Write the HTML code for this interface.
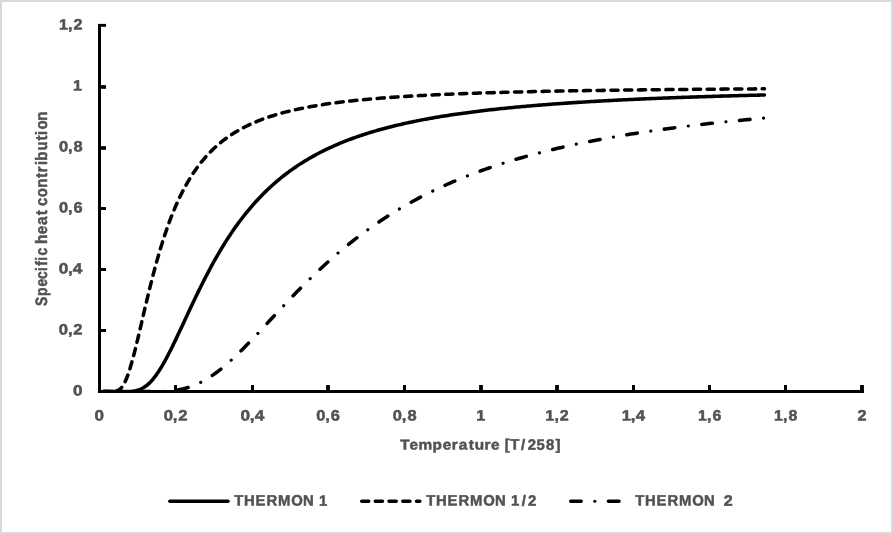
<!DOCTYPE html>
<html lang="en">
<head>
<meta charset="utf-8">
<title>Specific heat contribution vs Temperature</title>
<style>
html,body{margin:0;padding:0;background:#fff;}
body{width:893px;height:534px;overflow:hidden;}
svg{display:block;}
text{font-family:"Liberation Sans",sans-serif;font-weight:bold;fill:#525252;stroke:#525252;stroke-width:0.5px;stroke-linejoin:round;text-rendering:geometricPrecision;white-space:pre;}
</style>
</head>
<body>
<svg width="893" height="534" viewBox="0 0 893 534">
<rect x="0" y="0" width="893" height="534" fill="#d9d9d9"/>
<rect x="2" y="2" width="889" height="530" fill="#ffffff"/>
<clipPath id="plot"><rect x="90" y="10" width="790" height="383"/></clipPath>
<g clip-path="url(#plot)" fill="none" stroke="#000" stroke-width="3.55" stroke-linecap="round" stroke-linejoin="round">
<path d="M103.31 391.60 L105.22 391.60 L107.12 391.60 L109.03 391.60 L110.93 391.60 L112.84 391.60 L114.74 391.60 L116.65 391.60 L118.56 391.60 L120.46 391.60 L122.37 391.60 L124.27 391.60 L126.18 391.60 L128.08 391.60 L129.99 391.60 L131.89 391.60 L133.80 391.60 L135.70 391.60 L137.61 391.60 L139.51 391.60 L141.42 391.60 L143.32 391.60 L145.23 391.60 L147.14 391.59 L149.04 391.59 L150.95 391.58 L152.85 391.56 L154.76 391.54 L156.66 391.51 L158.57 391.47 L160.47 391.42 L162.38 391.36 L164.28 391.27 L166.19 391.17 L168.09 391.04 L170.00 390.88 L171.91 390.70 L173.81 390.48 L175.72 390.22 L177.62 389.92 L179.53 389.59 L181.43 389.20 L183.34 388.77 L185.24 388.29 L187.15 387.75 L189.05 387.17 L190.96 386.52 L192.86 385.82 L194.77 385.07 L196.67 384.25 L198.58 383.38 L200.49 382.45 L202.39 381.46 L204.30 380.42 L206.20 379.31 L208.11 378.15 L210.01 376.94 L211.92 375.67 L213.82 374.35 L215.73 372.98 L217.63 371.55 L219.54 370.08 L221.44 368.57 L223.35 367.01 L225.26 365.40 L227.16 363.76 L229.07 362.08 L230.97 360.36 L232.88 358.60 L234.78 356.82 L236.69 355.00 L238.59 353.16 L240.50 351.29 L242.40 349.39 L244.31 347.48 L246.21 345.54 L248.12 343.58 L250.02 341.61 L251.93 339.62 L253.84 337.62 L255.74 335.61 L257.65 333.59 L259.55 331.56 L261.46 329.52 L263.36 327.48 L265.27 325.43 L267.17 323.38 L269.08 321.33 L270.98 319.28 L272.89 317.23 L274.79 315.18 L276.70 313.13 L278.61 311.09 L280.51 309.06 L282.42 307.03 L284.32 305.01 L286.23 302.99 L288.13 300.99 L290.04 298.99 L291.94 297.00 L293.85 295.03 L295.75 293.06 L297.66 291.11 L299.56 289.17 L301.47 287.24 L303.37 285.32 L305.28 283.42 L307.19 281.53 L309.09 279.66 L311.00 277.80 L312.90 275.95 L314.81 274.12 L316.71 272.31 L318.62 270.51 L320.52 268.73 L322.43 266.96 L324.33 265.21 L326.24 263.47 L328.14 261.75 L330.05 260.05 L331.96 258.36 L333.86 256.69 L335.77 255.04 L337.67 253.40 L339.58 251.78 L341.48 250.18 L343.39 248.59 L345.29 247.02 L347.20 245.47 L349.10 243.93 L351.01 242.41 L352.91 240.90 L354.82 239.41 L356.72 237.94 L358.63 236.48 L360.54 235.04 L362.44 233.62 L364.35 232.21 L366.25 230.82 L368.16 229.44 L370.06 228.08 L371.97 226.73 L373.87 225.40 L375.78 224.08 L377.68 222.78 L379.59 221.49 L381.49 220.22 L383.40 218.97 L385.31 217.72 L387.21 216.49 L389.12 215.28 L391.02 214.08 L392.93 212.89 L394.83 211.72 L396.74 210.56 L398.64 209.42 L400.55 208.29 L402.45 207.17 L404.36 206.06 L406.26 204.97 L408.17 203.89 L410.07 202.82 L411.98 201.77 L413.89 200.72 L415.79 199.69 L417.70 198.67 L419.60 197.67 L421.51 196.67 L423.41 195.69 L425.32 194.72 L427.22 193.76 L429.13 192.81 L431.03 191.87 L432.94 190.94 L434.84 190.03 L436.75 189.12 L438.66 188.23 L440.56 187.34 L442.47 186.47 L444.37 185.60 L446.28 184.75 L448.18 183.90 L450.09 183.07 L451.99 182.24 L453.90 181.43 L455.80 180.62 L457.71 179.82 L459.61 179.03 L461.52 178.26 L463.42 177.48 L465.33 176.72 L467.24 175.97 L469.14 175.23 L471.05 174.49 L472.95 173.76 L474.86 173.04 L476.76 172.33 L478.67 171.63 L480.57 170.93 L482.48 170.25 L484.38 169.57 L486.29 168.89 L488.19 168.23 L490.10 167.57 L492.01 166.92 L493.91 166.28 L495.82 165.64 L497.72 165.02 L499.63 164.39 L501.53 163.78 L503.44 163.17 L505.34 162.57 L507.25 161.97 L509.15 161.39 L511.06 160.80 L512.96 160.23 L514.87 159.66 L516.77 159.09 L518.68 158.54 L520.59 157.99 L522.49 157.44 L524.40 156.90 L526.30 156.37 L528.21 155.84 L530.11 155.32 L532.02 154.80 L533.92 154.29 L535.83 153.78 L537.73 153.28 L539.64 152.78 L541.54 152.29 L543.45 151.81 L545.36 151.33 L547.26 150.85 L549.17 150.38 L551.07 149.92 L552.98 149.46 L554.88 149.00 L556.79 148.55 L558.69 148.10 L560.60 147.66 L562.50 147.22 L564.41 146.79 L566.31 146.36 L568.22 145.94 L570.12 145.52 L572.03 145.10 L573.94 144.69 L575.84 144.28 L577.75 143.88 L579.65 143.48 L581.56 143.08 L583.46 142.69 L585.37 142.31 L587.27 141.92 L589.18 141.54 L591.08 141.17 L592.99 140.79 L594.89 140.42 L596.80 140.06 L598.70 139.70 L600.61 139.34 L602.52 138.98 L604.42 138.63 L606.33 138.28 L608.23 137.94 L610.14 137.60 L612.04 137.26 L613.95 136.92 L615.85 136.59 L617.76 136.26 L619.66 135.94 L621.57 135.62 L623.47 135.30 L625.38 134.98 L627.29 134.67 L629.19 134.36 L631.10 134.05 L633.00 133.74 L634.91 133.44 L636.81 133.14 L638.72 132.85 L640.62 132.55 L642.53 132.26 L644.43 131.97 L646.34 131.69 L648.24 131.41 L650.15 131.12 L652.05 130.85 L653.96 130.57 L655.87 130.30 L657.77 130.03 L659.68 129.76 L661.58 129.49 L663.49 129.23 L665.39 128.97 L667.30 128.71 L669.20 128.45 L671.11 128.20 L673.01 127.95 L674.92 127.70 L676.82 127.45 L678.73 127.21 L680.64 126.96 L682.54 126.72 L684.45 126.48 L686.35 126.25 L688.26 126.01 L690.16 125.78 L692.07 125.55 L693.97 125.32 L695.88 125.09 L697.78 124.87 L699.69 124.64 L701.59 124.42 L703.50 124.20 L705.40 123.99 L707.31 123.77 L709.22 123.56 L711.12 123.34 L713.03 123.13 L714.93 122.93 L716.84 122.72 L718.74 122.51 L720.65 122.31 L722.55 122.11 L724.46 121.91 L726.36 121.71 L728.27 121.51 L730.17 121.32 L732.08 121.13 L733.99 120.93 L735.89 120.74 L737.80 120.56 L739.70 120.37 L741.61 120.18 L743.51 120.00 L745.42 119.82 L747.32 119.63 L749.23 119.45 L751.13 119.28 L753.04 119.10 L754.94 118.92 L756.85 118.75 L758.75 118.58 L760.66 118.40 L762.57 118.23 L764.47 118.07" stroke-dashoffset="1.15" stroke-dasharray="10.61 27.23"/>
<path d="M103.31 391.60 L105.22 391.60 L107.12 391.60 L109.03 391.60 L110.93 391.60 L112.84 391.60 L114.74 391.60 L116.65 391.60 L118.56 391.60 L120.46 391.60 L122.37 391.60 L124.27 391.60 L126.18 391.60 L128.08 391.60 L129.99 391.60 L131.89 391.60 L133.80 391.60 L135.70 391.60 L137.61 391.60 L139.51 391.60 L141.42 391.60 L143.32 391.60 L145.23 391.60 L147.14 391.59 L149.04 391.59 L150.95 391.58 L152.85 391.56 L154.76 391.54 L156.66 391.51 L158.57 391.47 L160.47 391.42 L162.38 391.36 L164.28 391.27 L166.19 391.17 L168.09 391.04 L170.00 390.88 L171.91 390.70 L173.81 390.48 L175.72 390.22 L177.62 389.92 L179.53 389.59 L181.43 389.20 L183.34 388.77 L185.24 388.29 L187.15 387.75 L189.05 387.17 L190.96 386.52 L192.86 385.82 L194.77 385.07 L196.67 384.25 L198.58 383.38 L200.49 382.45 L202.39 381.46 L204.30 380.42 L206.20 379.31 L208.11 378.15 L210.01 376.94 L211.92 375.67 L213.82 374.35 L215.73 372.98 L217.63 371.55 L219.54 370.08 L221.44 368.57 L223.35 367.01 L225.26 365.40 L227.16 363.76 L229.07 362.08 L230.97 360.36 L232.88 358.60 L234.78 356.82 L236.69 355.00 L238.59 353.16 L240.50 351.29 L242.40 349.39 L244.31 347.48 L246.21 345.54 L248.12 343.58 L250.02 341.61 L251.93 339.62 L253.84 337.62 L255.74 335.61 L257.65 333.59 L259.55 331.56 L261.46 329.52 L263.36 327.48 L265.27 325.43 L267.17 323.38 L269.08 321.33 L270.98 319.28 L272.89 317.23 L274.79 315.18 L276.70 313.13 L278.61 311.09 L280.51 309.06 L282.42 307.03 L284.32 305.01 L286.23 302.99 L288.13 300.99 L290.04 298.99 L291.94 297.00 L293.85 295.03 L295.75 293.06 L297.66 291.11 L299.56 289.17 L301.47 287.24 L303.37 285.32 L305.28 283.42 L307.19 281.53 L309.09 279.66 L311.00 277.80 L312.90 275.95 L314.81 274.12 L316.71 272.31 L318.62 270.51 L320.52 268.73 L322.43 266.96 L324.33 265.21 L326.24 263.47 L328.14 261.75 L330.05 260.05 L331.96 258.36 L333.86 256.69 L335.77 255.04 L337.67 253.40 L339.58 251.78 L341.48 250.18 L343.39 248.59 L345.29 247.02 L347.20 245.47 L349.10 243.93 L351.01 242.41 L352.91 240.90 L354.82 239.41 L356.72 237.94 L358.63 236.48 L360.54 235.04 L362.44 233.62 L364.35 232.21 L366.25 230.82 L368.16 229.44 L370.06 228.08 L371.97 226.73 L373.87 225.40 L375.78 224.08 L377.68 222.78 L379.59 221.49 L381.49 220.22 L383.40 218.97 L385.31 217.72 L387.21 216.49 L389.12 215.28 L391.02 214.08 L392.93 212.89 L394.83 211.72 L396.74 210.56 L398.64 209.42 L400.55 208.29 L402.45 207.17 L404.36 206.06 L406.26 204.97 L408.17 203.89 L410.07 202.82 L411.98 201.77 L413.89 200.72 L415.79 199.69 L417.70 198.67 L419.60 197.67 L421.51 196.67 L423.41 195.69 L425.32 194.72 L427.22 193.76 L429.13 192.81 L431.03 191.87 L432.94 190.94 L434.84 190.03 L436.75 189.12 L438.66 188.23 L440.56 187.34 L442.47 186.47 L444.37 185.60 L446.28 184.75 L448.18 183.90 L450.09 183.07 L451.99 182.24 L453.90 181.43 L455.80 180.62 L457.71 179.82 L459.61 179.03 L461.52 178.26 L463.42 177.48 L465.33 176.72 L467.24 175.97 L469.14 175.23 L471.05 174.49 L472.95 173.76 L474.86 173.04 L476.76 172.33 L478.67 171.63 L480.57 170.93 L482.48 170.25 L484.38 169.57 L486.29 168.89 L488.19 168.23 L490.10 167.57 L492.01 166.92 L493.91 166.28 L495.82 165.64 L497.72 165.02 L499.63 164.39 L501.53 163.78 L503.44 163.17 L505.34 162.57 L507.25 161.97 L509.15 161.39 L511.06 160.80 L512.96 160.23 L514.87 159.66 L516.77 159.09 L518.68 158.54 L520.59 157.99 L522.49 157.44 L524.40 156.90 L526.30 156.37 L528.21 155.84 L530.11 155.32 L532.02 154.80 L533.92 154.29 L535.83 153.78 L537.73 153.28 L539.64 152.78 L541.54 152.29 L543.45 151.81 L545.36 151.33 L547.26 150.85 L549.17 150.38 L551.07 149.92 L552.98 149.46 L554.88 149.00 L556.79 148.55 L558.69 148.10 L560.60 147.66 L562.50 147.22 L564.41 146.79 L566.31 146.36 L568.22 145.94 L570.12 145.52 L572.03 145.10 L573.94 144.69 L575.84 144.28 L577.75 143.88 L579.65 143.48 L581.56 143.08 L583.46 142.69 L585.37 142.31 L587.27 141.92 L589.18 141.54 L591.08 141.17 L592.99 140.79 L594.89 140.42 L596.80 140.06 L598.70 139.70 L600.61 139.34 L602.52 138.98 L604.42 138.63 L606.33 138.28 L608.23 137.94 L610.14 137.60 L612.04 137.26 L613.95 136.92 L615.85 136.59 L617.76 136.26 L619.66 135.94 L621.57 135.62 L623.47 135.30 L625.38 134.98 L627.29 134.67 L629.19 134.36 L631.10 134.05 L633.00 133.74 L634.91 133.44 L636.81 133.14 L638.72 132.85 L640.62 132.55 L642.53 132.26 L644.43 131.97 L646.34 131.69 L648.24 131.41 L650.15 131.12 L652.05 130.85 L653.96 130.57 L655.87 130.30 L657.77 130.03 L659.68 129.76 L661.58 129.49 L663.49 129.23 L665.39 128.97 L667.30 128.71 L669.20 128.45 L671.11 128.20 L673.01 127.95 L674.92 127.70 L676.82 127.45 L678.73 127.21 L680.64 126.96 L682.54 126.72 L684.45 126.48 L686.35 126.25 L688.26 126.01 L690.16 125.78 L692.07 125.55 L693.97 125.32 L695.88 125.09 L697.78 124.87 L699.69 124.64 L701.59 124.42 L703.50 124.20 L705.40 123.99 L707.31 123.77 L709.22 123.56 L711.12 123.34 L713.03 123.13 L714.93 122.93 L716.84 122.72 L718.74 122.51 L720.65 122.31 L722.55 122.11 L724.46 121.91 L726.36 121.71 L728.27 121.51 L730.17 121.32 L732.08 121.13 L733.99 120.93 L735.89 120.74 L737.80 120.56 L739.70 120.37 L741.61 120.18 L743.51 120.00 L745.42 119.82 L747.32 119.63 L749.23 119.45 L751.13 119.28 L753.04 119.10 L754.94 118.92 L756.85 118.75 L758.75 118.58 L760.66 118.40 L762.57 118.23 L764.47 118.07" stroke-width="3.2" stroke-dashoffset="14.76" stroke-dasharray="0.01 37.83"/>
<path d="M103.31 391.60 L105.22 391.60 L107.12 391.60 L109.03 391.60 L110.93 391.60 L112.84 391.56 L114.74 391.42 L116.65 391.04 L118.56 390.22 L120.46 388.77 L122.37 386.52 L124.27 383.38 L126.18 379.31 L128.08 374.35 L129.99 368.56 L131.89 362.07 L133.80 355.00 L135.70 347.47 L137.61 339.62 L139.51 331.55 L141.42 323.37 L143.32 315.17 L145.23 307.02 L147.14 298.98 L149.04 291.10 L150.95 283.42 L152.85 275.95 L154.76 268.72 L156.66 261.75 L158.57 255.04 L160.47 248.59 L162.38 242.40 L164.28 236.48 L166.19 230.81 L168.09 225.39 L170.00 220.22 L171.91 215.28 L173.81 210.56 L175.72 206.06 L177.62 201.76 L179.53 197.67 L181.43 193.76 L183.34 190.02 L185.24 186.46 L187.15 183.07 L189.05 179.82 L190.96 176.72 L192.86 173.76 L194.77 170.93 L196.67 168.23 L198.58 165.64 L200.49 163.17 L202.39 160.80 L204.30 158.54 L206.20 156.37 L208.11 154.29 L210.01 152.29 L211.92 150.38 L213.82 148.55 L215.73 146.79 L217.63 145.10 L219.54 143.48 L221.44 141.92 L223.35 140.42 L225.26 138.98 L227.16 137.60 L229.07 136.26 L230.97 134.98 L232.88 133.74 L234.78 132.55 L236.69 131.40 L238.59 130.30 L240.50 129.23 L242.40 128.20 L244.31 127.21 L246.21 126.25 L248.12 125.32 L250.02 124.42 L251.93 123.56 L253.84 122.72 L255.74 121.91 L257.65 121.13 L259.55 120.37 L261.46 119.63 L263.36 118.92 L265.27 118.23 L267.17 117.57 L269.08 116.92 L270.98 116.29 L272.89 115.69 L274.79 115.10 L276.70 114.52 L278.61 113.97 L280.51 113.43 L282.42 112.90 L284.32 112.40 L286.23 111.90 L288.13 111.42 L290.04 110.95 L291.94 110.50 L293.85 110.06 L295.75 109.63 L297.66 109.21 L299.56 108.80 L301.47 108.41 L303.37 108.02 L305.28 107.65 L307.19 107.28 L309.09 106.92 L311.00 106.58 L312.90 106.24 L314.81 105.91 L316.71 105.58 L318.62 105.27 L320.52 104.96 L322.43 104.67 L324.33 104.37 L326.24 104.09 L328.14 103.81 L330.05 103.54 L331.96 103.27 L333.86 103.02 L335.77 102.76 L337.67 102.52 L339.58 102.27 L341.48 102.04 L343.39 101.81 L345.29 101.58 L347.20 101.36 L349.10 101.14 L351.01 100.93 L352.91 100.73 L354.82 100.52 L356.72 100.33 L358.63 100.13 L360.54 99.94 L362.44 99.76 L364.35 99.58 L366.25 99.40 L368.16 99.22 L370.06 99.05 L371.97 98.89 L373.87 98.72 L375.78 98.56 L377.68 98.40 L379.59 98.25 L381.49 98.10 L383.40 97.95 L385.31 97.80 L387.21 97.66 L389.12 97.52 L391.02 97.38 L392.93 97.25 L394.83 97.12 L396.74 96.99 L398.64 96.86 L400.55 96.73 L402.45 96.61 L404.36 96.49 L406.26 96.37 L408.17 96.26 L410.07 96.14 L411.98 96.03 L413.89 95.92 L415.79 95.81 L417.70 95.71 L419.60 95.60 L421.51 95.50 L423.41 95.40 L425.32 95.30 L427.22 95.20 L429.13 95.11 L431.03 95.01 L432.94 94.92 L434.84 94.83 L436.75 94.74 L438.66 94.65 L440.56 94.56 L442.47 94.48 L444.37 94.39 L446.28 94.31 L448.18 94.23 L450.09 94.15 L451.99 94.07 L453.90 93.99 L455.80 93.92 L457.71 93.84 L459.61 93.77 L461.52 93.70 L463.42 93.63 L465.33 93.56 L467.24 93.49 L469.14 93.42 L471.05 93.35 L472.95 93.28 L474.86 93.22 L476.76 93.15 L478.67 93.09 L480.57 93.03 L482.48 92.97 L484.38 92.91 L486.29 92.85 L488.19 92.79 L490.10 92.73 L492.01 92.67 L493.91 92.62 L495.82 92.56 L497.72 92.51 L499.63 92.45 L501.53 92.40 L503.44 92.35 L505.34 92.29 L507.25 92.24 L509.15 92.19 L511.06 92.14 L512.96 92.09 L514.87 92.04 L516.77 92.00 L518.68 91.95 L520.59 91.90 L522.49 91.86 L524.40 91.81 L526.30 91.77 L528.21 91.72 L530.11 91.68 L532.02 91.64 L533.92 91.59 L535.83 91.55 L537.73 91.51 L539.64 91.47 L541.54 91.43 L543.45 91.39 L545.36 91.35 L547.26 91.31 L549.17 91.27 L551.07 91.24 L552.98 91.20 L554.88 91.16 L556.79 91.13 L558.69 91.09 L560.60 91.06 L562.50 91.02 L564.41 90.99 L566.31 90.95 L568.22 90.92 L570.12 90.88 L572.03 90.85 L573.94 90.82 L575.84 90.79 L577.75 90.75 L579.65 90.72 L581.56 90.69 L583.46 90.66 L585.37 90.63 L587.27 90.60 L589.18 90.57 L591.08 90.54 L592.99 90.51 L594.89 90.48 L596.80 90.46 L598.70 90.43 L600.61 90.40 L602.52 90.37 L604.42 90.35 L606.33 90.32 L608.23 90.29 L610.14 90.27 L612.04 90.24 L613.95 90.21 L615.85 90.19 L617.76 90.16 L619.66 90.14 L621.57 90.11 L623.47 90.09 L625.38 90.07 L627.29 90.04 L629.19 90.02 L631.10 90.00 L633.00 89.97 L634.91 89.95 L636.81 89.93 L638.72 89.91 L640.62 89.88 L642.53 89.86 L644.43 89.84 L646.34 89.82 L648.24 89.80 L650.15 89.78 L652.05 89.76 L653.96 89.74 L655.87 89.71 L657.77 89.69 L659.68 89.67 L661.58 89.66 L663.49 89.64 L665.39 89.62 L667.30 89.60 L669.20 89.58 L671.11 89.56 L673.01 89.54 L674.92 89.52 L676.82 89.50 L678.73 89.49 L680.64 89.47 L682.54 89.45 L684.45 89.43 L686.35 89.42 L688.26 89.40 L690.16 89.38 L692.07 89.37 L693.97 89.35 L695.88 89.33 L697.78 89.32 L699.69 89.30 L701.59 89.28 L703.50 89.27 L705.40 89.25 L707.31 89.24 L709.22 89.22 L711.12 89.21 L713.03 89.19 L714.93 89.18 L716.84 89.16 L718.74 89.15 L720.65 89.13 L722.55 89.12 L724.46 89.10 L726.36 89.09 L728.27 89.07 L730.17 89.06 L732.08 89.05 L733.99 89.03 L735.89 89.02 L737.80 89.01 L739.70 88.99 L741.61 88.98 L743.51 88.97 L745.42 88.95 L747.32 88.94 L749.23 88.93 L751.13 88.91 L753.04 88.90 L754.94 88.89 L756.85 88.88 L758.75 88.87 L760.66 88.85 L762.57 88.84 L764.47 88.83" stroke-dashoffset="1.15" stroke-dasharray="7.17 6.59"/>
<path d="M103.31 391.60 L105.22 391.60 L107.12 391.60 L109.03 391.60 L110.93 391.60 L112.84 391.60 L114.74 391.60 L116.65 391.60 L118.56 391.60 L120.46 391.60 L122.37 391.60 L124.27 391.59 L126.18 391.56 L128.08 391.51 L129.99 391.42 L131.89 391.27 L133.80 391.04 L135.70 390.70 L137.61 390.22 L139.51 389.59 L141.42 388.77 L143.32 387.75 L145.23 386.52 L147.14 385.07 L149.04 383.38 L150.95 381.46 L152.85 379.31 L154.76 376.94 L156.66 374.35 L158.57 371.55 L160.47 368.57 L162.38 365.40 L164.28 362.08 L166.19 358.60 L168.09 355.00 L170.00 351.29 L171.91 347.47 L173.81 343.58 L175.72 339.62 L177.62 335.61 L179.53 331.55 L181.43 327.47 L183.34 323.38 L185.24 319.28 L187.15 315.18 L189.05 311.09 L190.96 307.03 L192.86 302.99 L194.77 298.99 L196.67 295.03 L198.58 291.11 L200.49 287.24 L202.39 283.42 L204.30 279.66 L206.20 275.95 L208.11 272.31 L210.01 268.72 L211.92 265.21 L213.82 261.75 L215.73 258.36 L217.63 255.04 L219.54 251.78 L221.44 248.59 L223.35 245.47 L225.26 242.41 L227.16 239.41 L229.07 236.48 L230.97 233.62 L232.88 230.82 L234.78 228.08 L236.69 225.40 L238.59 222.78 L240.50 220.22 L242.40 217.72 L244.31 215.28 L246.21 212.89 L248.12 210.56 L250.02 208.28 L251.93 206.06 L253.84 203.89 L255.74 201.77 L257.65 199.69 L259.55 197.67 L261.46 195.69 L263.36 193.76 L265.27 191.87 L267.17 190.03 L269.08 188.22 L270.98 186.47 L272.89 184.75 L274.79 183.07 L276.70 181.43 L278.61 179.82 L280.51 178.25 L282.42 176.72 L284.32 175.23 L286.23 173.76 L288.13 172.33 L290.04 170.93 L291.94 169.57 L293.85 168.23 L295.75 166.92 L297.66 165.64 L299.56 164.39 L301.47 163.17 L303.37 161.97 L305.28 160.80 L307.19 159.66 L309.09 158.54 L311.00 157.44 L312.90 156.37 L314.81 155.32 L316.71 154.29 L318.62 153.28 L320.52 152.29 L322.43 151.33 L324.33 150.38 L326.24 149.46 L328.14 148.55 L330.05 147.66 L331.96 146.79 L333.86 145.94 L335.77 145.10 L337.67 144.28 L339.58 143.48 L341.48 142.69 L343.39 141.92 L345.29 141.17 L347.20 140.42 L349.10 139.70 L351.01 138.98 L352.91 138.28 L354.82 137.60 L356.72 136.92 L358.63 136.26 L360.54 135.62 L362.44 134.98 L364.35 134.36 L366.25 133.74 L368.16 133.14 L370.06 132.55 L371.97 131.97 L373.87 131.40 L375.78 130.85 L377.68 130.30 L379.59 129.76 L381.49 129.23 L383.40 128.71 L385.31 128.20 L387.21 127.70 L389.12 127.21 L391.02 126.72 L392.93 126.25 L394.83 125.78 L396.74 125.32 L398.64 124.87 L400.55 124.42 L402.45 123.99 L404.36 123.56 L406.26 123.13 L408.17 122.72 L410.07 122.31 L411.98 121.91 L413.89 121.51 L415.79 121.13 L417.70 120.74 L419.60 120.37 L421.51 120.00 L423.41 119.63 L425.32 119.28 L427.22 118.92 L429.13 118.58 L431.03 118.23 L432.94 117.90 L434.84 117.57 L436.75 117.24 L438.66 116.92 L440.56 116.60 L442.47 116.29 L444.37 115.99 L446.28 115.69 L448.18 115.39 L450.09 115.10 L451.99 114.81 L453.90 114.52 L455.80 114.24 L457.71 113.97 L459.61 113.70 L461.52 113.43 L463.42 113.16 L465.33 112.90 L467.24 112.65 L469.14 112.40 L471.05 112.15 L472.95 111.90 L474.86 111.66 L476.76 111.42 L478.67 111.19 L480.57 110.95 L482.48 110.73 L484.38 110.50 L486.29 110.28 L488.19 110.06 L490.10 109.84 L492.01 109.63 L493.91 109.42 L495.82 109.21 L497.72 109.01 L499.63 108.80 L501.53 108.60 L503.44 108.41 L505.34 108.21 L507.25 108.02 L509.15 107.83 L511.06 107.65 L512.96 107.46 L514.87 107.28 L516.77 107.10 L518.68 106.92 L520.59 106.75 L522.49 106.58 L524.40 106.41 L526.30 106.24 L528.21 106.07 L530.11 105.91 L532.02 105.74 L533.92 105.58 L535.83 105.43 L537.73 105.27 L539.64 105.12 L541.54 104.96 L543.45 104.81 L545.36 104.67 L547.26 104.52 L549.17 104.37 L551.07 104.23 L552.98 104.09 L554.88 103.95 L556.79 103.81 L558.69 103.67 L560.60 103.54 L562.50 103.41 L564.41 103.27 L566.31 103.14 L568.22 103.02 L570.12 102.89 L572.03 102.76 L573.94 102.64 L575.84 102.52 L577.75 102.39 L579.65 102.27 L581.56 102.16 L583.46 102.04 L585.37 101.92 L587.27 101.81 L589.18 101.69 L591.08 101.58 L592.99 101.47 L594.89 101.36 L596.80 101.25 L598.70 101.14 L600.61 101.04 L602.52 100.93 L604.42 100.83 L606.33 100.73 L608.23 100.63 L610.14 100.53 L612.04 100.43 L613.95 100.33 L615.85 100.23 L617.76 100.13 L619.66 100.04 L621.57 99.94 L623.47 99.85 L625.38 99.76 L627.29 99.67 L629.19 99.58 L631.10 99.49 L633.00 99.40 L634.91 99.31 L636.81 99.22 L638.72 99.14 L640.62 99.05 L642.53 98.97 L644.43 98.89 L646.34 98.80 L648.24 98.72 L650.15 98.64 L652.05 98.56 L653.96 98.48 L655.87 98.40 L657.77 98.33 L659.68 98.25 L661.58 98.17 L663.49 98.10 L665.39 98.02 L667.30 97.95 L669.20 97.88 L671.11 97.80 L673.01 97.73 L674.92 97.66 L676.82 97.59 L678.73 97.52 L680.64 97.45 L682.54 97.38 L684.45 97.32 L686.35 97.25 L688.26 97.18 L690.16 97.12 L692.07 97.05 L693.97 96.99 L695.88 96.92 L697.78 96.86 L699.69 96.80 L701.59 96.73 L703.50 96.67 L705.40 96.61 L707.31 96.55 L709.22 96.49 L711.12 96.43 L713.03 96.37 L714.93 96.31 L716.84 96.26 L718.74 96.20 L720.65 96.14 L722.55 96.09 L724.46 96.03 L726.36 95.98 L728.27 95.92 L730.17 95.87 L732.08 95.81 L733.99 95.76 L735.89 95.71 L737.80 95.65 L739.70 95.60 L741.61 95.55 L743.51 95.50 L745.42 95.45 L747.32 95.40 L749.23 95.35 L751.13 95.30 L753.04 95.25 L754.94 95.20 L756.85 95.15 L758.75 95.11 L760.66 95.06 L762.57 95.01 L764.47 94.97"/>
</g>
<g fill="#000">
<rect x="98" y="24" width="3" height="369"/>
<rect x="98" y="390" width="766" height="3"/>
<rect x="98" y="23.9" width="8" height="2.90"/>
<rect x="98" y="85.15" width="8" height="3.65"/>
<rect x="98" y="146.15" width="8" height="3.65"/>
<rect x="98" y="207" width="8" height="3.00"/>
<rect x="98" y="268" width="8" height="3.00"/>
<rect x="98" y="329" width="8" height="3.00"/>
<rect x="174" y="385" width="3.00" height="8"/>
<rect x="251" y="385" width="3.00" height="8"/>
<rect x="326.1" y="385" width="3.80" height="8"/>
<rect x="403" y="385" width="3.00" height="8"/>
<rect x="479.1" y="385" width="3.80" height="8"/>
<rect x="555.1" y="385" width="3.80" height="8"/>
<rect x="632" y="385" width="3.00" height="8"/>
<rect x="708" y="385" width="3.00" height="8"/>
<rect x="784" y="385" width="3.00" height="8"/>
<rect x="860.1" y="385" width="3.80" height="8"/>
</g>
<g font-size="15.0">
<text transform="rotate(0.05 71.0 29.60)"><tspan x="59.08 68.13 73.53" y="29.60" textLength="22.38" lengthAdjust="spacingAndGlyphs">1,2</tspan></text>
<text transform="rotate(0.05 77.9 90.60)"><tspan x="73.13" y="90.60" textLength="8.96" lengthAdjust="spacingAndGlyphs">1</tspan></text>
<text transform="rotate(0.05 70.8 151.60)"><tspan x="58.94 68.09 73.60" y="151.60" textLength="22.83" lengthAdjust="spacingAndGlyphs">0,8</tspan></text>
<text transform="rotate(0.05 70.7 212.60)"><tspan x="58.96 68.09 73.52" y="212.60" textLength="22.74" lengthAdjust="spacingAndGlyphs">0,6</tspan></text>
<text transform="rotate(0.05 70.9 273.60)"><tspan x="58.73 67.98 72.88" y="273.60" textLength="23.89" lengthAdjust="spacingAndGlyphs">0,4</tspan></text>
<text transform="rotate(0.05 70.7 334.60)"><tspan x="58.89 68.06 73.38" y="334.60" textLength="23.12" lengthAdjust="spacingAndGlyphs">0,2</tspan></text>
<text transform="rotate(0.05 77.8 395.60)"><tspan x="73.08" y="395.60" textLength="9.47" lengthAdjust="spacingAndGlyphs">0</tspan></text>
<text transform="rotate(0.05 99.3 420.60)"><tspan x="94.63" y="420.60" textLength="9.47" lengthAdjust="spacingAndGlyphs">0</tspan></text>
<text transform="rotate(0.05 175.5 420.60)"><tspan x="163.69 172.86 178.18" y="420.60" textLength="23.12" lengthAdjust="spacingAndGlyphs">0,2</tspan></text>
<text transform="rotate(0.05 252.7 420.60)"><tspan x="240.53 249.78 254.68" y="420.60" textLength="23.89" lengthAdjust="spacingAndGlyphs">0,4</tspan></text>
<text transform="rotate(0.05 328.0 420.60)"><tspan x="316.26 325.39 330.82" y="420.60" textLength="22.74" lengthAdjust="spacingAndGlyphs">0,6</tspan></text>
<text transform="rotate(0.05 404.6 420.60)"><tspan x="392.74 401.89 407.40" y="420.60" textLength="22.83" lengthAdjust="spacingAndGlyphs">0,8</tspan></text>
<text transform="rotate(0.05 480.9 420.60)"><tspan x="476.18" y="420.60" textLength="8.96" lengthAdjust="spacingAndGlyphs">1</tspan></text>
<text transform="rotate(0.05 557.3 420.60)"><tspan x="545.38 554.43 559.83" y="420.60" textLength="22.38" lengthAdjust="spacingAndGlyphs">1,2</tspan></text>
<text transform="rotate(0.05 634.1 420.60)"><tspan x="621.71 630.85 635.82" y="420.60" textLength="23.19" lengthAdjust="spacingAndGlyphs">1,4</tspan></text>
<text transform="rotate(0.05 709.8 420.60)"><tspan x="697.96 706.97 712.47" y="420.60" textLength="21.99" lengthAdjust="spacingAndGlyphs">1,6</tspan></text>
<text transform="rotate(0.05 785.9 420.60)"><tspan x="773.94 782.96 788.55" y="420.60" textLength="22.09" lengthAdjust="spacingAndGlyphs">1,8</tspan></text>
<text transform="rotate(0.05 862.0 420.60)"><tspan x="857.54" y="420.60" textLength="9.03" lengthAdjust="spacingAndGlyphs">2</tspan></text>
<text transform="rotate(0.05 480.2 449.60)"><tspan x="400.22 409.55 418.50 432.56 442.66 451.67 458.70 468.69 474.87 484.59 491.06" y="449.60" textLength="93.13" lengthAdjust="spacingAndGlyphs" font-size="14.3">Temperature</tspan> <tspan x="504.77 510.28 520.95 527.84 536.59 545.92 555.49" y="449.60" textLength="47.95" lengthAdjust="spacingAndGlyphs">[T/258]</tspan></text>
<text transform="rotate(0.05 280.6 505.60)"><tspan x="234.15 243.94 255.53 266.39 278.02 291.23 302.96" y="505.60" textLength="75.23" lengthAdjust="spacingAndGlyphs">THERMON</tspan> <tspan x="319.00" y="505.60" textLength="8.27" lengthAdjust="spacingAndGlyphs">1</tspan></text>
<text transform="rotate(0.05 481.1 505.60)"><tspan x="426.18 435.97 447.56 458.42 470.05 483.26 494.99" y="505.60" textLength="75.23" lengthAdjust="spacingAndGlyphs">THERMON</tspan> <tspan x="510.91 521.76 528.06" y="505.60" textLength="20.79" lengthAdjust="spacingAndGlyphs">1/2</tspan></text>
<text transform="rotate(0.05 683.7 505.60)"><tspan x="635.18 644.97 656.56 667.42 679.05 692.26 703.99" y="505.60" textLength="75.23" lengthAdjust="spacingAndGlyphs">THERMON</tspan>  <tspan x="723.72" y="505.60" textLength="8.96" lengthAdjust="spacingAndGlyphs">2</tspan></text>
</g>
<text transform="translate(47.1 306.0) rotate(-90)" font-size="16.5"><tspan x="0.04 10.00 19.53 26.95 34.90 40.27 45.24 50.56" y="0.00" textLength="53.07" lengthAdjust="spacingAndGlyphs">Specific</tspan> <tspan x="62.05 71.78 80.95 90.73" y="0.00" textLength="31.50" lengthAdjust="spacingAndGlyphs">heat</tspan> <tspan x="100.04 108.73 118.23 127.92 133.66 140.99 145.29 155.50 165.41 171.09 176.42 185.36" y="0.00" textLength="87.58" lengthAdjust="spacingAndGlyphs">contribution</tspan></text>
<g fill="none" stroke="#000" stroke-width="3.55" stroke-linecap="round">
<path d="M169.88 501.25 H227.97"/>
<path d="M361.72 501.25 H419.83" stroke-dashoffset="0.20" stroke-dasharray="7.17 6.59"/>
<path d="M570.77 501.25 H628.83" stroke-dashoffset="0.20" stroke-dasharray="10.61 27.23"/>
<path d="M570.77 501.25 H628.83" stroke-width="3.2" stroke-dashoffset="13.81" stroke-dasharray="0.01 37.83"/>
</g>
</svg>
</body>
</html>
